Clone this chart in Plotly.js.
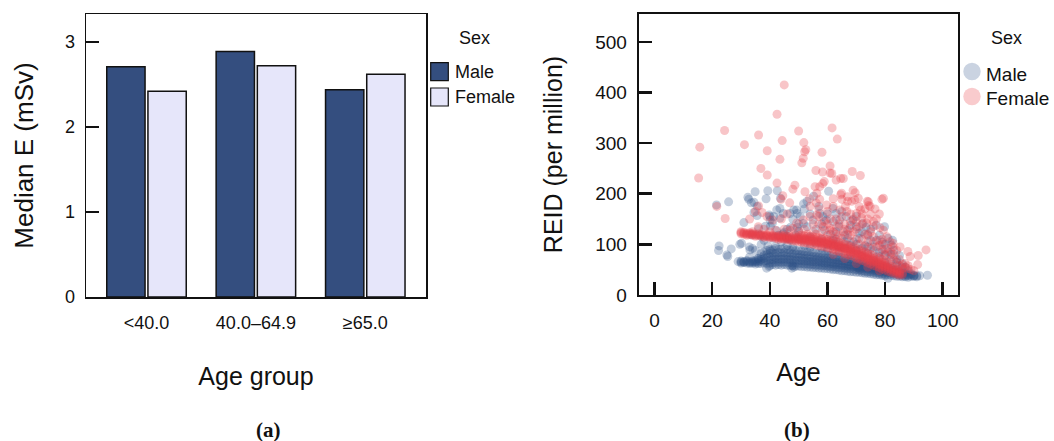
<!DOCTYPE html>
<html>
<head>
<meta charset="utf-8">
<script src="https://cdn.plot.ly/plotly-3.0.1.min.js"></script>
<style>html,body{margin:0;padding:0;background:#fff;}#chart{width:1054px;height:441px;}</style>
</head>
<body>
<div id="chart"></div>
<script>
// ---------- Panel (a): median effective dose by age group ----------
const ageGroups = ['<40.0', '40.0–64.9', '≥65.0'];
const maleMedianE = [2.71, 2.89, 2.44];
const femaleMedianE = [2.42, 2.72, 2.62];

// ---------- Panel (b): REID vs age, [age, REID] ----------
const maleBand = [
[30,63],[30,65],[30,67],[31,64],[31,66],[31,65],[32,63],[32,66],[32,68],[33,64],[33,66],[33,62],
[34,65],[34,67],[34,63],[35,64],[35,66],[35,69],[35,61],[36,65],[36,68],[36,62],[36,72],
[37,66],[37,70],[37,62],[37,75],[38,67],[38,72],[38,63],[38,78],[38,85],
[39,68],[39,74],[39,62],[39,80],[39,88],[40,69],[40,75],[40,63],[40,82],[40,90],[40,58],
[41,70],[41,76],[41,64],[41,83],[41,89],[41,60],[42,70],[42,75],[42,64],[42,82],[42,92],[42,59],
[43,71],[43,77],[43,65],[43,84],[43,90],[43,60],[44,70],[44,76],[44,64],[44,83],[44,91],[44,59],
[45,71],[45,77],[45,65],[45,84],[45,92],[45,60],[46,70],[46,76],[46,64],[46,82],[46,90],[46,59],
[47,70],[47,75],[47,64],[47,83],[47,89],[47,58],[48,69],[48,75],[48,63],[48,81],[48,90],[48,58],
[49,69],[49,74],[49,63],[49,81],[49,88],[49,57],[50,68],[50,74],[50,62],[50,80],[50,88],[50,57],
[51,68],[51,73],[51,62],[51,80],[51,87],[51,56],[52,67],[52,72],[52,61],[52,79],[52,86],[52,56],
[53,67],[53,72],[53,61],[53,78],[53,85],[53,55],[54,66],[54,71],[54,60],[54,77],[54,86],[54,55],
[55,66],[55,70],[55,60],[55,76],[55,84],[55,54],[56,65],[56,70],[56,59],[56,76],[56,83],[56,54],
[57,65],[57,69],[57,59],[57,75],[57,82],[57,53],[58,64],[58,68],[58,58],[58,74],[58,82],[58,53],
[59,63],[59,68],[59,58],[59,73],[59,80],[59,52],[60,63],[60,67],[60,57],[60,73],[60,79],[60,52],
[61,62],[61,66],[61,56],[61,72],[61,78],[61,51],[62,61],[62,65],[62,56],[62,71],[62,77],[62,50],
[63,60],[63,64],[63,55],[63,70],[63,76],[63,50],[64,60],[64,64],[64,54],[64,69],[64,75],[64,49],
[65,59],[65,63],[65,54],[65,68],[65,74],[65,48],[66,58],[66,62],[66,53],[66,67],[66,73],[66,48],
[67,57],[67,61],[67,52],[67,66],[67,72],[67,47],[68,57],[68,60],[68,52],[68,65],[68,71],[68,46],
[69,56],[69,59],[69,51],[69,64],[69,70],[69,46],[70,55],[70,58],[70,50],[70,63],[70,69],[70,45],
[71,54],[71,57],[71,49],[71,62],[71,68],[71,45],[72,53],[72,56],[72,48],[72,61],[72,66],[72,44],
[73,52],[73,55],[73,47],[73,60],[73,65],[73,43],[74,51],[74,54],[74,46],[74,59],[74,64],[74,43],
[75,50],[75,53],[75,46],[75,58],[75,63],[75,42],[76,49],[76,52],[76,45],[76,57],[76,61],[76,41],
[77,48],[77,51],[77,44],[77,56],[77,60],[77,40],[78,47],[78,50],[78,43],[78,55],[78,59],[78,40],
[79,46],[79,49],[79,42],[79,54],[79,58],[79,39],[80,45],[80,48],[80,41],[80,52],[80,56],[80,38],
[81,44],[81,47],[81,40],[81,51],[81,55],[82,43],[82,46],[82,39],[82,50],[82,53],
[83,42],[83,45],[83,38],[83,49],[84,41],[84,44],[84,37],[84,48],[85,40],[85,43],[85,37],[85,46],
[86,39],[86,42],[86,36],[86,45],[87,38],[87,41],[87,36],[87,44],[88,38],[88,40],[88,35],
[89,37],[89,40],[90,37],[90,39],[91,38]
];
const maleCloud = [
[22.4,97],[22.2,88],[25.1,79],[25.4,76],[26.6,91],[29.6,100],[29,66],[21.5,178],[25.7,184],
[32.4,193],[32.7,189],[34.9,204],[39.3,206],[42.6,206],[38.7,190],[43.7,191],[31,143],[32.9,95],
[33.6,182],[34.5,183],[35.6,175],[34.5,163],[35.6,157],[39.8,158],[40.1,148],[41.3,155],[42.4,168],
[43.5,171],[44.7,161],[38.5,136],[40.2,136],[40.9,142],[36.1,131],[36.6,118],[39.3,97],[40.2,87],
[39.7,56],[47.8,58],[48.3,55],[38.9,53],[47.6,53],[48.3,168],[49.5,161],[50.6,155],[51.7,180],
[52.9,185],[55.2,195],[60.4,205],[51.7,141],[52.9,135],[49.5,134],[47.2,134],[44.7,121],[45.8,115],
[42.4,127],[57.3,161],[58.4,155],[59.6,148],[61.9,171],[63,161],[64.2,148],[66.5,155],[68.8,148],
[70,155],[72.3,141],[73.4,134],[76.9,138],[79.8,135],[82.6,108],[82.1,99],[76.8,58],[71.2,51],
[70.7,54],[94.7,39],[81,33],[33.7,119],[40,155],[43.5,152],[47,161],[49.3,168],[30.2,102],[33.1,89],
[37,100],[38,108],[41,112],[43,118],[45,124],[46,130],[47,110],[49,118],[50,126],[44,105],[46,98],
[48,95],[42,96],[35,88],[37,82],[33,75],[36,72],[34,92],[48,150],[50,140],[52,170],[54,160],
[55,148],[56,130],[57,175],[58,140],[59,128],[60,160],[61,120],[62,145],[63,110],[64,135],[65,165],
[66,118],[67,128],[68,138],[69,105],[70,135],[71,112],[72,125],[73,98],[74,118],[75,130],[76,95],
[77,108],[78,118],[79,90],[80,100],[81,85],[83,88],[84,70],[85,78],[86,62],[87,55],[88,48],[89,42],
[90,38],[91,36],[92,38],[62,96],[66,92],[70,88],[74,82],[78,76],[82,68],[52,98],[56,102],[58,92],
[54,94],[60,88],[64,85],[68,80],[72,76],[76,70],[80,64],[84,58],
[60,100],[62,108],[64,95],[66,105],[68,98],[70,100],[72,92],[74,95],[76,88],[78,84],[80,78],[82,80],
[84,64],[86,55],[63,125],[67,112],[71,122],[75,108],[79,104],[81,112],[58,110],[54,115],[50,110],[46,112]
];
const femaleBand = [
[30,121],[30,123],[30,125],[31,120],[31,122],[31,124],[32,120],[32,122],[32,118],[33,119],[33,121],[33,123],
[34,118],[34,120],[34,122],[35,118],[35,120],[35,116],[36,117],[36,119],[36,121],[37,116],[37,118],[37,120],
[38,116],[38,118],[38,114],[39,115],[39,117],[39,119],[40,115],[40,117],[40,113],[41,114],[41,116],[41,118],
[42,114],[42,116],[42,112],[43,113],[43,115],[43,117],[43,110],[44,113],[44,115],[44,111],[44,118],
[45,112],[45,114],[45,110],[45,117],[46,111],[46,113],[46,109],[46,116],[47,111],[47,113],[47,108],[47,116],
[48,110],[48,112],[48,107],[48,115],[49,110],[49,112],[49,106],[49,115],
[50,109],[50,111],[50,105],[50,114],[50,118],[51,108],[51,110],[51,104],[51,113],[51,118],
[52,108],[52,110],[52,103],[52,112],[52,117],[53,107],[53,109],[53,102],[53,112],[53,116],
[54,106],[54,108],[54,101],[54,111],[54,115],[55,105],[55,107],[55,100],[55,110],[55,115],
[56,104],[56,106],[56,99],[56,109],[56,114],[57,103],[57,105],[57,97],[57,108],[57,113],
[58,102],[58,104],[58,96],[58,107],[58,112],[59,101],[59,103],[59,95],[59,106],[59,111],
[60,100],[60,102],[60,93],[60,105],[60,110],[61,98],[61,100],[61,92],[61,103],[61,108],
[62,97],[62,99],[62,90],[62,102],[62,107],[63,95],[63,97],[63,88],[63,100],[63,105],
[64,93],[64,96],[64,86],[64,99],[64,104],[65,92],[65,94],[65,85],[65,97],[65,102],
[66,89],[66,92],[66,82],[66,95],[66,100],[67,87],[67,90],[67,80],[67,93],[67,98],
[68,85],[68,88],[68,78],[68,91],[68,96],[69,82],[69,85],[69,76],[69,89],[69,94],
[70,80],[70,83],[70,73],[70,87],[70,92],[71,77],[71,80],[71,71],[71,84],[71,89],
[72,75],[72,78],[72,68],[72,82],[72,87],[73,72],[73,75],[73,66],[73,79],[73,85],
[74,70],[74,73],[74,63],[74,77],[74,82],[75,67],[75,70],[75,61],[75,74],[75,80],
[76,65],[76,68],[76,58],[76,72],[76,78],[77,62],[77,65],[77,56],[77,69],[77,75],
[78,60],[78,63],[78,54],[78,67],[78,73],[79,57],[79,60],[79,51],[79,64],[79,70],
[80,55],[80,58],[80,49],[80,62],[80,68],[81,52],[81,55],[81,47],[81,59],[81,64],
[82,50],[82,53],[82,45],[82,57],[83,47],[83,50],[83,43],[83,54],[84,45],[84,48],[84,41],[84,51],
[85,42],[85,45],[85,39],[85,48],[86,40],[86,43]
];
const femaleCloud = [
[45,415],[42.5,357],[24.3,325],[15.7,292],[15.3,231],[31.2,297],[36.1,316],[39.1,285],[44.3,305],
[50,324],[51.8,301],[52.5,287],[52.1,283],[51.6,270],[51.1,261],[43.5,268],[36.9,250],[39.1,237],
[42.5,221],[61.6,330],[63.4,308],[58.1,282],[56,246],[58.3,243],[60.9,255],[61.5,240],[60.9,241],
[63,227],[64.6,230],[65.5,230],[68.6,244],[71.4,236],[48.7,217],[52.2,204],[58.9,224],[57.3,214],
[58.4,220],[68.9,207],[69.6,202],[78.9,189],[68.4,185],[73.8,185],[74.3,177],[76.5,170],[71,175],
[71.5,168],[24.5,151],[21.6,175],[36.1,176],[94.2,89],[91.5,78],[88.7,76],[87.9,86],[91.3,60],
[78.2,133],[79.4,128],[66.2,175],[66.9,194],[64.6,198],[65,189],[57.3,189],[56.1,182],[56.3,201],
[53.8,190],[46.9,182],[48,209],[44.5,196],[43.9,189],[37.3,163],[55.7,214],[64.9,201],[70.7,191],
[69.5,188],[74.2,184],[74.8,175],[79.4,191],[47,128],[49.3,142],[51.6,148],[53.9,155],[56.3,158],
[58.5,135],[60.8,128],[63.1,135],[65.5,125],[67.8,132],[59.7,178],[62,175],[64.3,168],[66.7,165],
[70.1,161],[71.9,152],[73.6,142],[75.9,135],[80.6,115],[81.7,105],[82.8,95],[82.8,102],[85.2,95],
[55,125],[57,140],[61,150],[63,120],[66,140],[68,118],[70,130],[72,110],[74,120],[76,105],[78,98],
[80,90],[83,80],[85,70],[86,60],[87,55],[88,52],[89,50],[90,48],[84,88],[79,110],[77,150],[75,160],
[73,170],[69,150],[67,185],[62,190],[60,165],[57,170],[54,175],[52,130],[50,125],[48,132],[45,130],
[42,128],[40,125],[38,130],[36,135],[34,125],[33,150],[35,165],[39,155],[41,148],[44,150],[46,160],
[65,112],[71,100],[75,92],[68,105],[73,96],[79,85],[82,75],[70,62],[74,55],[66,72],[62,80],[78,48],
[56,120],[58,125],[59,145],[60,118],[61,132],[62,125],[63,150],[64,140],[65,155],[66,130],[67,120],
[68,145],[69,125],[70,110],[71,135],[72,140],[73,120],[74,105],[75,125],[76,115],[77,95],[78,108],
[79,100],[80,80],[81,92],[82,85],[83,70],[84,65],[85,58],[86,52],[87,62],[88,58],[60,140],[64,118],
[68,160],[72,160],[76,145],[78,160],[74,150],[70,145],[57,155],[55,140],[53,120],[62,112]
];

const malePts = maleBand.concat(maleCloud);
const femalePts = femaleBand.concat(femaleCloud);

// ---------- Style ----------
const W = 1054, H = 441;
const fx = p => p / W;
const fy = p => 1 - p / H;
const SANS = 'Liberation Sans, Arial, sans-serif';
const SERIF = 'Liberation Serif, DejaVu Serif, serif';
const MALE_BAR = '#344e7f';
const FEMALE_BAR = '#e6e6fa';
const MALE_PT = 'rgba(44,78,134,0.28)';
const FEMALE_PT = 'rgba(232,62,72,0.30)';
const MALE_KEY = 'rgba(44,78,134,0.25)';
const FEMALE_KEY = 'rgba(232,62,72,0.27)';

const traces = [
  {type:'bar', x:ageGroups, y:maleMedianE, name:'Male', xaxis:'x', yaxis:'y',
   marker:{color:MALE_BAR, line:{color:'#111', width:1.5}}},
  {type:'bar', x:ageGroups, y:femaleMedianE, name:'Female', xaxis:'x', yaxis:'y',
   marker:{color:FEMALE_BAR, line:{color:'#111', width:1.5}}},
  {type:'scatter', mode:'markers', x:malePts.map(p=>p[0]), y:malePts.map(p=>p[1]), name:'Male',
   xaxis:'x2', yaxis:'y2', marker:{size:9, color:MALE_PT, line:{width:0}}},
  {type:'scatter', mode:'markers', x:femalePts.map(p=>p[0]), y:femalePts.map(p=>p[1]), name:'Female',
   xaxis:'x2', yaxis:'y2', marker:{size:9, color:FEMALE_PT, line:{width:0}}}
];

const axCommon = {showline:true, mirror:true, linecolor:'#111', showgrid:false, zeroline:false,
  automargin:false, color:'#111'};

const txt = (text, x, y, anchor, size, family) => ({text:text, xref:'paper', yref:'paper',
  x:fx(x), y:fy(y), xanchor:anchor, yanchor:'middle', showarrow:false,
  font:{size:size, family:family || SANS, color:'#111'}});

const layout = {
  width:W, height:H, margin:{l:0, r:0, t:0, b:0}, paper_bgcolor:'#fff', plot_bgcolor:'#fff',
  font:{family:SANS, color:'#111'}, showlegend:false, hovermode:false,
  barmode:'group', bargap:0.247, bargroupgap:0.07,
  xaxis:Object.assign({}, axCommon, {domain:[fx(86), fx(426)], anchor:'y', type:'category',
    range:[-0.553, 2.555], ticks:'', linewidth:1.5, tickfont:{size:18}, ticklabelstandoff:9,
    title:{text:'Age group', font:{size:25}, standoff:35}}),
  yaxis:Object.assign({}, axCommon, {domain:[fy(297), fy(14)], anchor:'x', range:[0, 3.33],
    dtick:1, tick0:0, ticks:'inside', ticklen:13, tickwidth:1.5, tickcolor:'#111', linewidth:1.5,
    tickfont:{size:18}, ticklabelstandoff:6,
    title:{text:'Median E (mSv)', font:{size:26}, standoff:24}}),
  xaxis2:Object.assign({}, axCommon, {domain:[fx(638.7), fx(958.3)], anchor:'y2', range:[-5.5, 105.4],
    dtick:20, tick0:0, ticks:'inside', ticklen:13, tickwidth:2.5, tickcolor:'#111', linewidth:2,
    tickfont:{size:19}, ticklabelstandoff:7,
    title:{text:'Age', font:{size:25}, standoff:34}}),
  yaxis2:Object.assign({}, axCommon, {domain:[fy(295), fy(14)], anchor:'x2', range:[0, 555],
    dtick:100, tick0:0, ticks:'inside', ticklen:13, tickwidth:2.5, tickcolor:'#111', linewidth:2,
    tickfont:{size:19}, ticklabelstandoff:6,
    title:{text:'REID (per million)', font:{size:25}, standoff:25}}),
  shapes:[
    {type:'rect', xref:'paper', yref:'paper', x0:fx(430.7), x1:fx(448.3), y0:fy(80.7), y1:fy(62.7),
     fillcolor:MALE_BAR, line:{color:'#111', width:1.2}},
    {type:'rect', xref:'paper', yref:'paper', x0:fx(430.7), x1:fx(448.3), y0:fy(106), y1:fy(88),
     fillcolor:FEMALE_BAR, line:{color:'#111', width:1.2}},
    {type:'circle', xref:'paper', yref:'paper', x0:fx(963.3), x1:fx(980.7), y0:fy(80.2), y1:fy(62.8),
     fillcolor:MALE_KEY, line:{width:0}},
    {type:'circle', xref:'paper', yref:'paper', x0:fx(963.3), x1:fx(980.7), y0:fy(105.2), y1:fy(87.8),
     fillcolor:FEMALE_KEY, line:{width:0}}
  ],
  annotations:[
    txt('Sex', 474, 38, 'center', 18),
    txt('Male', 453, 72, 'left', 18),
    txt('Female', 453, 97, 'left', 18),
    txt('Sex', 1006, 38, 'center', 18),
    txt('Male', 984, 74, 'left', 19),
    txt('Female', 984, 98, 'left', 19),
    txt('<b>(a)</b>', 268, 430, 'center', 21, SERIF),
    txt('<b>(b)</b>', 797, 430, 'center', 21, SERIF)
  ]
};

Plotly.newPlot('chart', traces, layout, {staticPlot:true, displayModeBar:false});
</script>
</body>
</html>
